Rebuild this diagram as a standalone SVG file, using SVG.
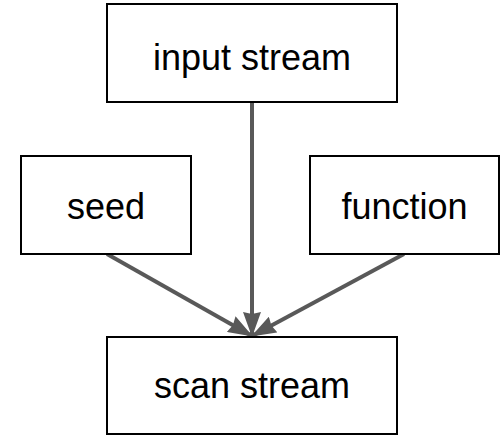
<svg xmlns="http://www.w3.org/2000/svg" width="502" height="436" viewBox="0 0 502 436">
<style>
.box{fill:#fff;stroke:#000;stroke-width:2}
.lbl{font-family:"Liberation Sans",Arial,sans-serif;font-size:36px;fill:#000;text-anchor:middle}
.edge{stroke:#595959;stroke-width:4;fill:none}
</style>
<defs>
<marker id="arr" markerUnits="userSpaceOnUse" viewBox="0 0 25 18" refX="24" refY="9" markerWidth="25" markerHeight="18" orient="auto">
<path d="M0,0 L25,9 L0,18 L2,9 Z" fill="#595959"/>
</marker>
</defs>
<rect width="502" height="436" fill="#fff"/>
<g id="connectors">
<line class="edge" x1="252" y1="103" x2="252" y2="336" marker-end="url(#arr)"/>
<line class="edge" x1="107" y1="254" x2="252" y2="336" marker-end="url(#arr)"/>
<line class="edge" x1="404" y1="254" x2="252" y2="336" marker-end="url(#arr)"/>
</g>
<g id="input">
<rect class="box" x="107" y="4" width="290" height="98"/>
<text class="lbl" x="252" y="70">input stream</text>
</g>
<g id="seed">
<rect class="box" x="21" y="156" width="170" height="98"/>
<text class="lbl" x="106" y="219">seed</text>
</g>
<g id="function">
<rect class="box" x="310" y="156" width="189" height="98"/>
<text class="lbl" x="404.5" y="219">function</text>
</g>
<g id="scan">
<rect class="box" x="107" y="337" width="290" height="97"/>
<text class="lbl" x="252" y="398">scan stream</text>
</g>
</svg>
